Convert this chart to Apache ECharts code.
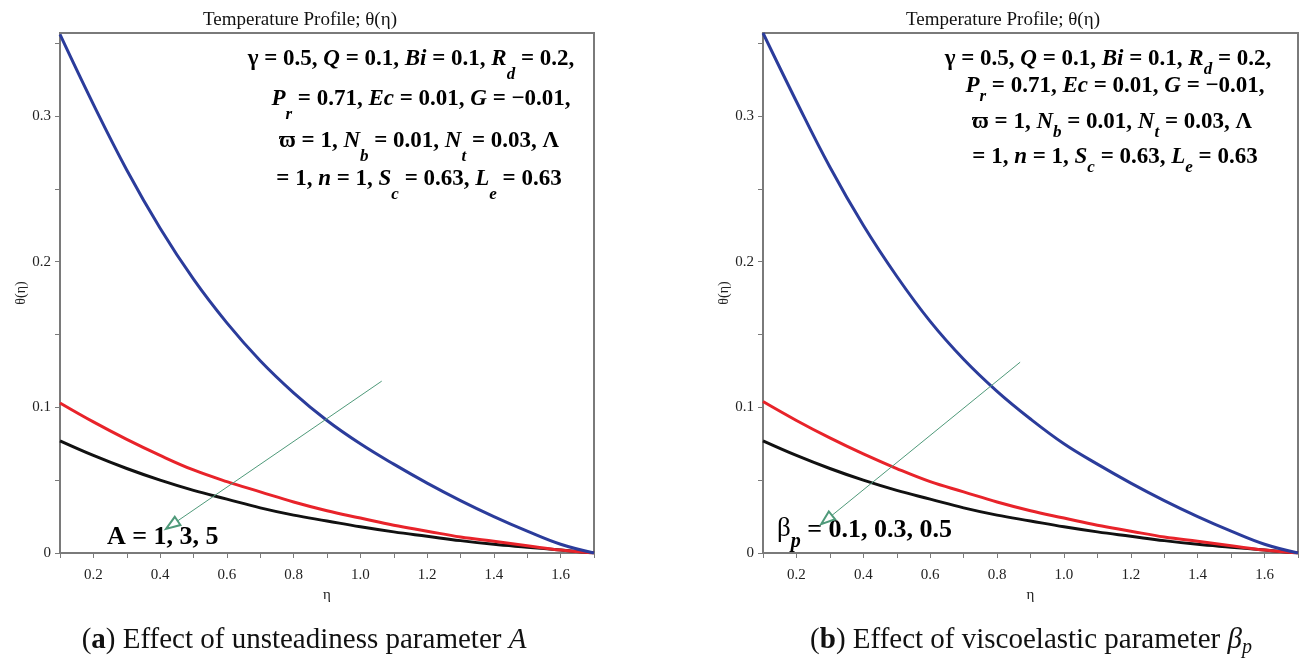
<!DOCTYPE html>
<html lang="en">
<head>
<meta charset="UTF-8">
<title>Temperature Profile</title>
<script src="https://cdn.jsdelivr.net/npm/echarts@6.0.0/dist/echarts.min.js"></script>
<style>
  html, body { margin: 0; padding: 0; background: #fff; }
</style>
</head>
<body>
<div id="main" style="width:1313px;height:662px;"></div>
<script type="text/javascript">
// eta values shared by all curves
const eta = [0.1, 0.2, 0.3, 0.4, 0.5, 0.6, 0.7, 0.8, 0.9, 1.0, 1.1, 1.2, 1.3, 1.4, 1.5, 1.6, 1.7];

// (a) unsteadiness parameter A
const thetaA1 = [0.356, 0.308, 0.263, 0.223, 0.188, 0.158, 0.132, 0.110, 0.091, 0.075, 0.061, 0.048, 0.036, 0.025, 0.015, 0.006, 0];
const thetaA3 = [0.103, 0.090, 0.078, 0.067, 0.057, 0.049, 0.042, 0.035, 0.029, 0.024, 0.019, 0.015, 0.011, 0.008, 0.005, 0.002, 0];
const thetaA5 = [0.077, 0.067, 0.058, 0.050, 0.043, 0.037, 0.031, 0.026, 0.022, 0.018, 0.0145, 0.0115, 0.0085, 0.006, 0.004, 0.002, 0];

// (b) viscoelastic parameter beta_p
const thetaB01 = [0.357, 0.310, 0.265, 0.225, 0.190, 0.159, 0.133, 0.111, 0.092, 0.075, 0.061, 0.048, 0.036, 0.025, 0.015, 0.006, 0];
const thetaB03 = [0.104, 0.091, 0.079, 0.068, 0.058, 0.049, 0.042, 0.035, 0.029, 0.024, 0.019, 0.015, 0.011, 0.008, 0.005, 0.002, 0];
const thetaB05 = [0.077, 0.067, 0.058, 0.050, 0.043, 0.037, 0.031, 0.026, 0.022, 0.018, 0.0145, 0.0115, 0.0085, 0.006, 0.004, 0.002, 0];

// arrow annotations, [eta, theta] from -> to
const arrowA = [[1.064, 0.118], [0.435, 0.0193]];
const arrowB = [[0.869, 0.131], [0.29, 0.0228]];

const SERIF = '"Liberation Serif", "Times New Roman", serif';
const BLUE = '#2b3c9b', RED = '#e8232a', BLACK = '#111111', ARROW = '#4f9a7a', FRAME = '#7a7a7a';

let myChart = echarts.init(document.getElementById('main'));

function pairs(ys) { return eta.map((x, i) => [x, ys[i]]); }

function xAxisFor(gi) {
  return {
    type: 'value', gridIndex: gi, min: 0.1, max: 1.7, interval: 0.1,
    name: 'η', nameLocation: 'middle', nameGap: 33,
    nameTextStyle: { fontFamily: SERIF, fontSize: 15, color: '#222' },
    axisLine: { lineStyle: { color: FRAME, width: 2 } },
    axisTick: { inside: false, length: 5, lineStyle: { color: FRAME } },
    splitLine: { show: false },
    axisLabel: {
      fontFamily: SERIF, fontSize: 15, color: '#222', margin: 15,
      showMinLabel: true, showMaxLabel: true,
      formatter: v => { const r = Math.round(v * 10); return (r % 2 === 0 && r < 17) ? (r / 10).toFixed(1) : ''; }
    }
  };
}

function yAxisFor(gi) {
  return {
    type: 'value', gridIndex: gi, min: 0, max: 0.357, interval: 0.05,
    name: 'θ(η)', nameLocation: 'middle', nameGap: 27,
    nameTextStyle: { fontFamily: SERIF, fontSize: 14, color: '#222' },
    axisLine: { lineStyle: { color: FRAME, width: 2 } },
    axisTick: { inside: false, length: 5, lineStyle: { color: FRAME } },
    splitLine: { show: false },
    axisLabel: {
      fontFamily: SERIF, fontSize: 15, color: '#222', margin: 9, showMaxLabel: false,
      formatter: v => {
        const r = Math.round(v * 20);
        if (Math.abs(v * 20 - r) > 1e-6 || r % 2 !== 0) return '';
        return r === 0 ? '0' : (r / 20).toFixed(1);
      }
    }
  };
}

function curve(gi, ys, color, z) {
  return {
    type: 'line', xAxisIndex: gi, yAxisIndex: gi, data: pairs(ys),
    showSymbol: false, smooth: 0.4, z: z,
    lineStyle: { color: color, width: 3 }, itemStyle: { color: color }
  };
}

function arrow(gi, a) {
  return {
    type: 'line', xAxisIndex: gi, yAxisIndex: gi, data: [], z: 5,
    markLine: {
      silent: true, animation: false,
      symbol: ['none', 'emptyTriangle'], symbolSize: [10, 14],
      label: { show: false },
      lineStyle: { color: ARROW, width: 1, type: 'solid' },
      data: [[{ coord: a[0] }, { coord: a[1] }]]
    }
  };
}

// rich text styles for the parameter block
function richSet(size, subPad) {
  const base = { fontFamily: SERIF, fontSize: size, fontWeight: 'bold', fill: '#000', verticalAlign: 'top' };
  return {
    b: base,
    bi: Object.assign({}, base, { fontStyle: 'italic' }),
    s: Object.assign({}, base, { fontStyle: 'italic', fontSize: Math.round(size * 0.72), padding: [subPad, 0, 0, 0] })
  };
}

const paramLines = [
  '{b|γ = 0.5, }{bi|Q}{b| = 0.1, }{bi|Bi}{b| = 0.1, }{bi|R}{s|d}{b| = 0.2,}',
  '{bi|P}{s|r}{b| = 0.71, }{bi|Ec}{b| = 0.01, }{bi|G}{b| = −0.01,}',
  '{b|ϖ = 1, }{bi|N}{s|b}{b| = 0.01, }{bi|N}{s|t}{b| = 0.03, Λ}',
  '{b|= 1, }{bi|n}{b| = 1, }{bi|S}{s|c}{b| = 0.63, }{bi|L}{s|e}{b| = 0.63}'
];

function paramBlock(centers, tops, subPad) {
  const rich = richSet(23, subPad);
  return paramLines.map((t, i) => ({
    type: 'text', x: centers[i], y: tops[i], silent: true,
    style: { text: t, rich: rich, align: 'center', verticalAlign: 'top', textAlign: 'center', textVerticalAlign: 'top' }
  }));
}

const titleText = 'Temperature Profile; θ(η)';
const graphics = [
  { type: 'text', x: 300, y: 20, silent: true,
    style: { text: titleText, fontFamily: SERIF, fontSize: 19, fill: '#111', align: 'center', verticalAlign: 'middle', textAlign: 'center', textVerticalAlign: 'middle' } },
  { type: 'text', x: 1003, y: 20, silent: true,
    style: { text: titleText, fontFamily: SERIF, fontSize: 19, fill: '#111', align: 'center', verticalAlign: 'middle', textAlign: 'center', textVerticalAlign: 'middle' } },
  // curve-family labels
  { type: 'text', x: 107, y: 537, silent: true,
    style: { text: 'A = 1, 3, 5', fontFamily: SERIF, fontSize: 26, fontWeight: 'bold', fill: '#000', align: 'left', verticalAlign: 'middle', textAlign: 'left', textVerticalAlign: 'middle' } },
  { type: 'text', x: 777, y: 515, silent: true,
    style: {
      text: '{g|β}{s|p}{b| = 0.1, 0.3, 0.5}', align: 'left', verticalAlign: 'top', textAlign: 'left', textVerticalAlign: 'top',
      rich: {
        g: { fontFamily: SERIF, fontSize: 27, fill: '#000', verticalAlign: 'top' },
        s: { fontFamily: SERIF, fontSize: 20, fontWeight: 'bold', fontStyle: 'italic', fill: '#000', verticalAlign: 'top', padding: [17, 0, 0, 0] },
        b: { fontFamily: SERIF, fontSize: 26, fontWeight: 'bold', fill: '#000', verticalAlign: 'top', padding: [2, 0, 0, 0] }
      }
    } },
  // captions
  { type: 'text', x: 304, y: 626, silent: true,
    style: {
      text: '{n|(}{bd|a}{n|) Effect of unsteadiness parameter }{it|A}', align: 'center', verticalAlign: 'top', textAlign: 'center', textVerticalAlign: 'top',
      rich: {
        n: { fontFamily: SERIF, fontSize: 29, fill: '#111', verticalAlign: 'top' },
        bd: { fontFamily: SERIF, fontSize: 29, fontWeight: 'bold', fill: '#111', verticalAlign: 'top' },
        it: { fontFamily: SERIF, fontSize: 29, fontStyle: 'italic', fill: '#111', verticalAlign: 'top' }
      }
    } },
  { type: 'text', x: 1031, y: 626, silent: true,
    style: {
      text: '{n|(}{bd|b}{n|) Effect of viscoelastic parameter }{it|β}{sub|p}', align: 'center', verticalAlign: 'top', textAlign: 'center', textVerticalAlign: 'top',
      rich: {
        n: { fontFamily: SERIF, fontSize: 29, fill: '#111', verticalAlign: 'top' },
        bd: { fontFamily: SERIF, fontSize: 29, fontWeight: 'bold', fill: '#111', verticalAlign: 'top' },
        it: { fontFamily: SERIF, fontSize: 29, fontStyle: 'italic', fill: '#111', verticalAlign: 'top' },
        sub: { fontFamily: SERIF, fontSize: 20, fontStyle: 'italic', fill: '#111', verticalAlign: 'top', padding: [12, 0, 0, 0] }
      }
    } }
].concat(
  paramBlock([411, 421, 419, 419], [48, 88, 130, 168], 18),
  paramBlock([1108, 1115, 1112, 1115], [48, 75, 111, 146], 13)
);

let options = {
  animation: false,
  backgroundColor: '#fff',
  grid: [
    { left: 60, top: 33, width: 534, height: 520, show: true, borderColor: FRAME, borderWidth: 2, backgroundColor: 'transparent' },
    { left: 763, top: 33, width: 535, height: 520, show: true, borderColor: FRAME, borderWidth: 2, backgroundColor: 'transparent' }
  ],
  xAxis: [xAxisFor(0), xAxisFor(1)],
  yAxis: [yAxisFor(0), yAxisFor(1)],
  series: [
    curve(0, thetaA5, BLACK, 3), curve(0, thetaA3, RED, 3), curve(0, thetaA1, BLUE, 3), arrow(0, arrowA),
    curve(1, thetaB05, BLACK, 3), curve(1, thetaB03, RED, 3), curve(1, thetaB01, BLUE, 3), arrow(1, arrowB)
  ],
  graphic: graphics
};

myChart.setOption(options);
</script>
</body>
</html>
